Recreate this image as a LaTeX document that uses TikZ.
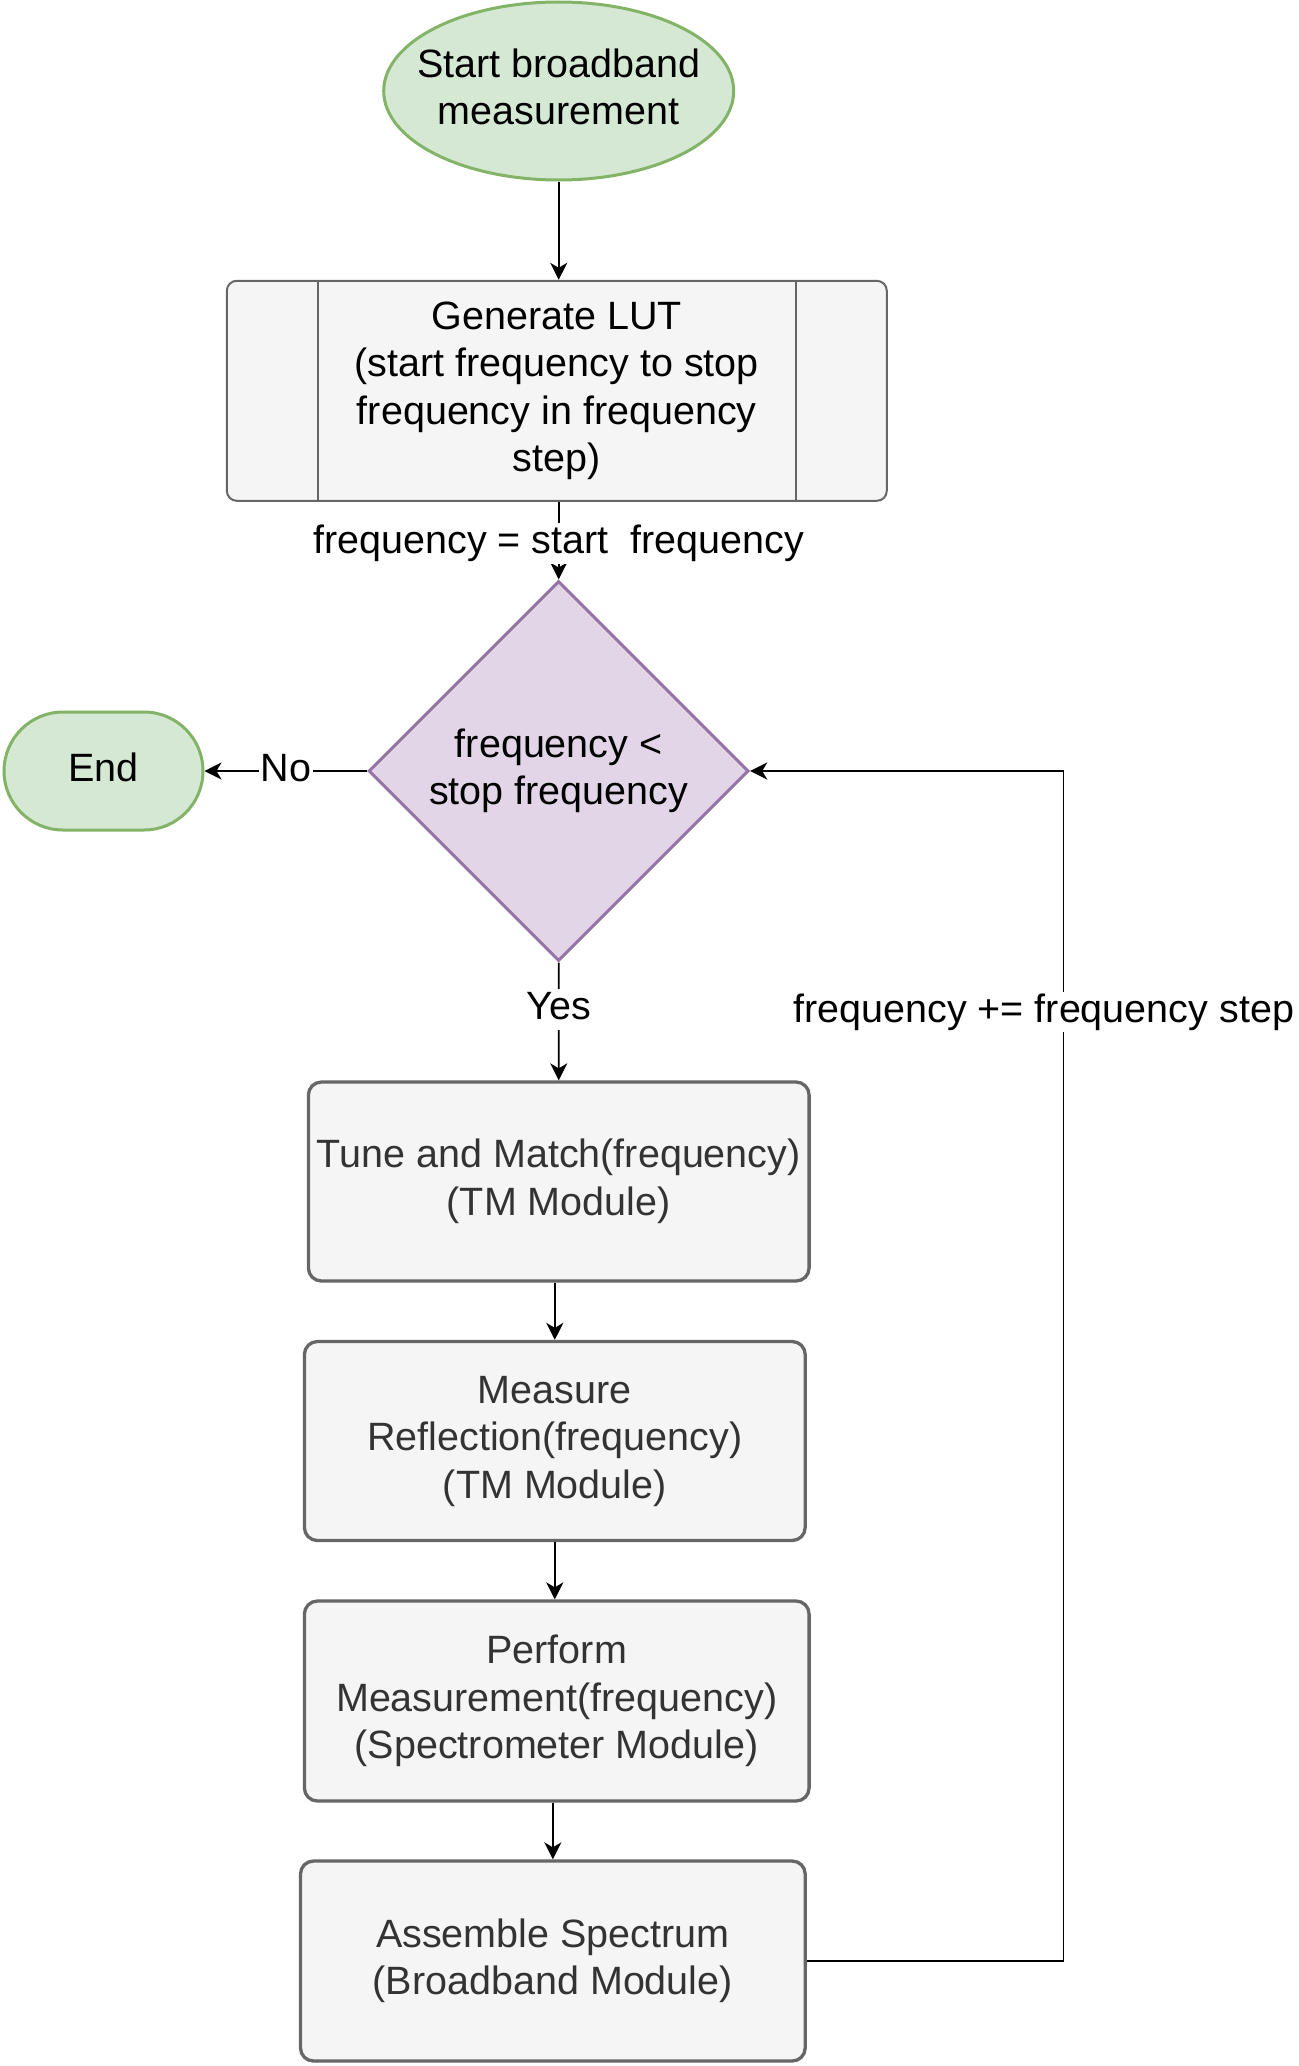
\documentclass[tikz,border=0pt]{standalone}
\usepackage{fontspec}
\setmainfont{Liberation Sans}
\usetikzlibrary{shapes.geometric,arrows.meta,calc}
\definecolor{gfill}{HTML}{D5E8D4}
\definecolor{gline}{HTML}{82B366}
\definecolor{pfill}{HTML}{E1D5E7}
\definecolor{pline}{HTML}{9673A6}
\definecolor{bfill}{HTML}{F5F5F5}
\definecolor{bline}{HTML}{666666}
\definecolor{btext}{HTML}{333333}
\begin{document}
\begin{tikzpicture}[x=1pt,y=-1pt,
  every node/.style={font=\fontsize{39.5}{47.5}\selectfont, align=center, inner sep=0pt},
  terminal/.style={ellipse, draw=gline, fill=gfill, line width=3pt, inner xsep=-25pt, inner ysep=-20pt},
  endbox/.style={rectangle, rounded corners=59pt, draw=gline, fill=gfill, line width=3pt},
  lutbox/.style={rectangle, rounded corners=10pt, draw=bline, fill=bfill, line width=2pt},
  decision/.style={diamond, draw=pline, fill=pfill, line width=3pt},
  procbox/.style={rectangle, rounded corners=13pt, draw=bline, fill=bfill, line width=3.3pt, text=btext},
  arr/.style={draw=black, line width=1.8pt, -{Stealth[length=17pt,width=17pt,inset=5pt]}},
  lbl/.style={fill=white, inner sep=2pt}
]
\useasboundingbox (0,0) rectangle (1298,2066);

\node[terminal, minimum width=350pt, minimum height=178pt] (start) at (558.7,91) {Start broadband\\measurement\vphantom{(}};

\node[lutbox, minimum width=660pt, minimum height=220pt] (lut) at (556.8,390.8) {Generate LUT\\(start frequency to stop\\frequency in frequency\\step)};
\draw[draw=bline, line width=2pt] ($(lut.north west)+(92.3,0)$) -- ($(lut.south west)+(92.3,0)$);
\draw[draw=bline, line width=2pt] ($(lut.north east)+(-92.3,0)$) -- ($(lut.south east)+(-92.3,0)$);

\node[decision, minimum width=380pt, minimum height=380pt] (dia) at (558.7,771) {frequency <\\stop frequency};

\node[endbox, minimum width=199pt, minimum height=118pt] (end) at (103.5,771) {End\vphantom{(}};

\node[procbox, minimum width=500.7pt, minimum height=199pt] (tm) at (558.75,1181.5) {Tune and Match(frequency)\\(TM Module)};
\node[procbox, minimum width=500.8pt, minimum height=199pt] (meas) at (554.8,1441) {Measure\\Reflection(frequency)\\(TM Module)};
\node[procbox, minimum width=504.7pt, minimum height=200pt] (perf) at (556.75,1701) {Perform\\Measurement(frequency)\\(Spectrometer Module)};
\node[procbox, minimum width=504.7pt, minimum height=200pt] (asm) at (552.85,1961) {Assemble Spectrum\\(Broadband Module)};

\coordinate (loopc) at (1063.5,771);

\draw[arr] (start.south) -- (start.south |- lut.north);
\draw[arr] (lut.south -| dia.north) -- node[lbl, yshift=-3pt] (lbllut) {frequency = start\ \ frequency} (dia.north);
\draw[arr] (dia.west) -- node[lbl] (lblno) {No\vphantom{(}} (end.east);
\draw[arr] (dia.south) -- node[lbl, pos=0.4] (lblyes) {Yes\vphantom{(}} (tm.north);
\draw[arr] (tm.south -| meas.north) -- (meas.north);
\draw[arr] (meas.south) -- (meas.south |- perf.north);
\draw[arr] (perf.south -| asm.north) -- (asm.north);
\draw[arr] (asm.east) -| (loopc) -- (dia.east);
\node[lbl] (lblloop) at (1043.7,1012) {frequency += frequency step};
\end{tikzpicture}
\end{document}
